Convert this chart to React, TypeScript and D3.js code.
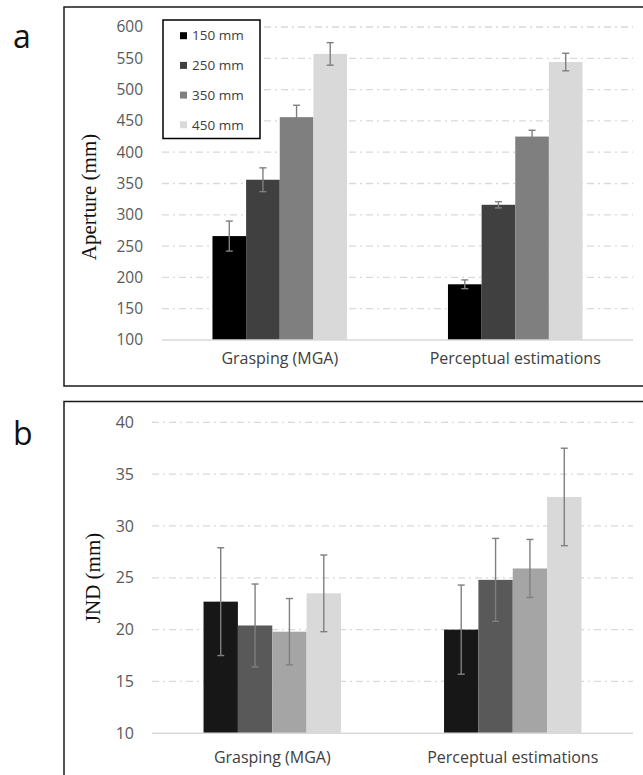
import React, { useEffect, useRef } from 'react';
import * as d3 from 'd3';

// categories and series
const categories = ['Grasping (MGA)', 'Perceptual estimations'];
const sizes = ['150 mm', '250 mm', '350 mm', '450 mm'];

// panel a: aperture (mm), one row per category, one value per size
const apertureMean = [
  [266, 356, 456, 557],
  [189, 316, 425, 544],
];
const apertureErr = [
  [24, 19, 19, 18],
  [7, 5, 10, 14],
];
const apertureTicks = [100, 150, 200, 250, 300, 350, 400, 450, 500, 550, 600];

// panel b: JND (mm)
const jndMean = [
  [22.7, 20.4, 19.8, 23.5],
  [20.0, 24.8, 25.9, 32.8],
];
const jndErr = [
  [5.2, 4.0, 3.2, 3.7],
  [4.3, 4.0, 2.8, 4.7],
];
const jndTicks = [10, 15, 20, 25, 30, 35, 40];

const coloursA = ['#000000', '#404040', '#7f7f7f', '#d9d9d9'];
const coloursB = ['#171717', '#595959', '#a5a5a5', '#d9d9d9'];

const SANS = '"Open Sans", "Noto Sans", sans-serif';
const SERIF = '"Liberation Serif", "Times New Roman", serif';

function drawPanel(svg, opts) {
  const g = svg.append('g');
  // frame (right / bottom edges run off the page)
  g.append('rect')
    .attr('x', 64).attr('y', opts.frameTop)
    .attr('width', 640).attr('height', opts.frameHeight)
    .attr('fill', 'white')
    .attr('stroke', '#1a1a1a').attr('stroke-width', 1.5);

  g.append('text')
    .attr('x', 13).attr('y', opts.letterY)
    .attr('font-family', SANS).attr('font-size', 32)
    .attr('fill', '#111')
    .text(opts.letter);

  const y = d3.scaleLinear().domain(opts.domain).range([opts.bottom, opts.top]);
  const x0 = d3.scaleBand().domain(categories).range([opts.left, opts.right]);
  // excel style gap width of 300%
  const barW = x0.bandwidth() / (sizes.length + 3);
  const x1 = d3.scaleBand().domain(sizes).range([0, barW * sizes.length]);

  // grid
  g.selectAll('.grid')
    .data(opts.ticks.slice(1))
    .join('line')
    .attr('x1', opts.left).attr('x2', opts.right)
    .attr('y1', (d) => y(d)).attr('y2', (d) => y(d))
    .attr('stroke', '#d9d9d9').attr('stroke-width', 1.3)
    .attr('stroke-dasharray', '7,4,2,4');

  g.selectAll('.tick')
    .data(opts.ticks)
    .join('text')
    .attr('x', opts.tickX).attr('y', (d) => y(d))
    .attr('dy', '0.35em')
    .attr('text-anchor', 'end')
    .attr('font-family', SANS).attr('font-size', opts.tickSize)
    .attr('fill', '#595959')
    .text((d) => d);

  categories.forEach((cat, ci) => {
    const gx = x0(cat) + (x0.bandwidth() - barW * sizes.length) / 2;
    sizes.forEach((s, si) => {
      const v = opts.means[ci][si];
      const e = opts.errs[ci][si];
      const bx = gx + x1(s);
      g.append('rect')
        .attr('x', bx).attr('y', y(v))
        .attr('width', x1.bandwidth()).attr('height', y(opts.domain[0]) - y(v))
        .attr('fill', opts.colours[si]);
      const cx = bx + x1.bandwidth() / 2;
      const eb = g.append('g').attr('stroke', '#7f7f7f').attr('stroke-width', 1.4);
      eb.append('line').attr('x1', cx).attr('x2', cx).attr('y1', y(v + e)).attr('y2', y(v - e));
      eb.append('line').attr('x1', cx - 3.5).attr('x2', cx + 3.5).attr('y1', y(v + e)).attr('y2', y(v + e));
      eb.append('line').attr('x1', cx - 3.5).attr('x2', cx + 3.5).attr('y1', y(v - e)).attr('y2', y(v - e));
    });
    g.append('text')
      .attr('x', x0(cat) + x0.bandwidth() / 2).attr('y', opts.catY)
      .attr('text-anchor', 'middle')
      .attr('font-family', SANS).attr('font-size', 16)
      .attr('fill', '#404040')
      .text(cat);
  });

  // baseline
  g.append('line')
    .attr('x1', opts.left).attr('x2', opts.right)
    .attr('y1', y(opts.domain[0])).attr('y2', y(opts.domain[0]))
    .attr('stroke', '#d9d9d9').attr('stroke-width', 1.5);

  g.append('text')
    .attr('transform', `translate(${opts.labelX},${opts.labelY}) rotate(-90)`)
    .attr('text-anchor', 'middle')
    .attr('font-family', SERIF).attr('font-size', 21)
    .attr('fill', '#111')
    .text(opts.label);

  return g;
}

const App = () => {
  const ref = useRef(null);

  useEffect(() => {
    const svg = d3.select(ref.current);
    svg.selectAll('*').remove();

    const a = drawPanel(svg, {
      frameTop: 7, frameHeight: 379, letter: 'a', letterY: 48,
      domain: [100, 600], top: 27, bottom: 340, left: 162, right: 633,
      ticks: apertureTicks, tickX: 143, tickSize: 15.5,
      means: apertureMean, errs: apertureErr, colours: coloursA,
      catY: 364, label: 'Aperture (mm)', labelX: 96, labelY: 197,
    });

    // legend
    const leg = a.append('g');
    leg.append('rect')
      .attr('x', 163).attr('y', 20).attr('width', 97).attr('height', 118.5)
      .attr('fill', 'white').attr('stroke', '#000').attr('stroke-width', 1.5);
    sizes.forEach((s, i) => {
      const cy = 35.7 + i * 29.7;
      leg.append('rect')
        .attr('x', 180).attr('y', cy - 3.5).attr('width', 7).attr('height', 7)
        .attr('fill', coloursA[i]);
      leg.append('text')
        .attr('x', 192).attr('y', cy).attr('dy', '0.35em')
        .attr('font-family', SANS).attr('font-size', 13.5)
        .attr('fill', '#404040')
        .text(s);
    });

    drawPanel(svg, {
      frameTop: 401.5, frameHeight: 400, letter: 'b', letterY: 445,
      domain: [10, 40], top: 422.3, bottom: 733.3, left: 152, right: 633,
      ticks: jndTicks, tickX: 134, tickSize: 16,
      means: jndMean, errs: jndErr, colours: coloursB,
      catY: 763, label: 'JND (mm)', labelX: 100, labelY: 578,
    });
  }, []);

  return (
    <svg
      ref={ref}
      width={643}
      height={775}
      style={{ position: 'absolute', left: 0, top: 0, background: 'white' }}
    />
  );
};

export default App;
